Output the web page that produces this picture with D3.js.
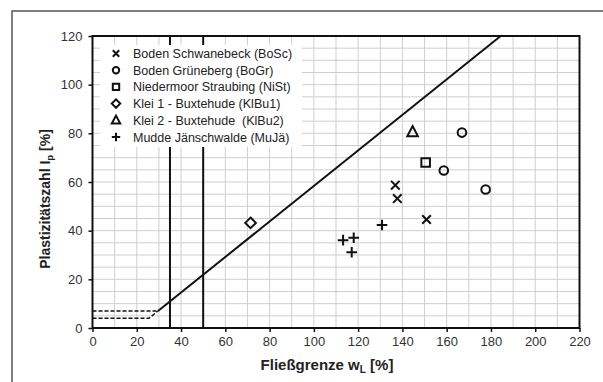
<!DOCTYPE html>
<html>
<head>
<meta charset="utf-8">
<script src="https://cdn.jsdelivr.net/npm/d3@7"></script>
<style>
  html, body { margin: 0; padding: 0; background: #fff; }
  svg { display: block; font-family: "Liberation Sans", Arial, sans-serif; }
</style>
</head>
<body>
<svg id="chart" width="603" height="382"></svg>
<script>
// Soil samples: liquid limit wL [%] and plasticity index Ip [%]
const seriesNames = [
  "Boden Schwanebeck (BoSc)",
  "Boden Grüneberg (BoGr)",
  "Niedermoor Straubing (NiSt)",
  "Klei 1 - Buxtehude (KlBu1)",
  "Klei 2 - Buxtehude  (KlBu2)",
  "Mudde Jänschwalde (MuJä)"
];
const seriesSymbols = ["cross", "circle", "square", "diamond", "triangle", "plus"];

const bosc = [[136.8, 58.7], [137.7, 53.2], [150.9, 44.6]];
const bogr = [[166.9, 80.3], [158.7, 64.7], [177.6, 56.9]];
const nist = [[150.5, 68.0]];
const klbu1 = [[71.4, 43.2]];
const klbu2 = [[144.6, 80.6]];
const muja = [[113.2, 36.1], [118.0, 37.1], [117.1, 31.1], [130.8, 42.3]];
const seriesData = [bosc, bogr, nist, klbu1, klbu2, muja];

// Casagrande plasticity chart reference lines
const aLine = [[29.6, 7], [184.4, 120]];          // Ip = 0.73 (wL - 20)
const dashUpper = [[0, 7], [29.6, 7]];
const dashLower = [[0, 4], [25.5, 4], [29.6, 7]];
const liquidLimitBounds = [35, 50];

const xTicks = d3.range(0, 221, 20);
const yTicks = d3.range(0, 121, 20);
const xGrid = d3.range(0, 221, 10);
const yGrid = d3.range(0, 121, 5);

const svg = d3.select("#chart");
const x = d3.scaleLinear().domain([0, 220]).range([92.5, 579.5]);
const y = d3.scaleLinear().domain([0, 120]).range([328, 36]);

// outer frame (top and left edges)
svg.append("path").attr("d", "M12,382 V11 H603")
  .attr("fill", "none").attr("stroke", "#555").attr("stroke-width", 1.5);

// grid
const grid = svg.append("g").attr("stroke", "#cfcfcf").attr("stroke-width", 1);
grid.selectAll("line.vx").data(xGrid).join("line")
  .attr("x1", d => x(d)).attr("x2", d => x(d)).attr("y1", y(0)).attr("y2", y(120));
grid.selectAll("line.hy").data(yGrid).join("line")
  .attr("y1", d => y(d)).attr("y2", d => y(d)).attr("x1", x(0)).attr("x2", x(220));

// liquid limit boundaries
svg.selectAll("line.wl").data(liquidLimitBounds).join("line")
  .attr("x1", d => x(d)).attr("x2", d => x(d)).attr("y1", y(0)).attr("y2", y(120))
  .attr("stroke", "#111").attr("stroke-width", 2);

const line = d3.line().x(d => x(d[0])).y(d => y(d[1]));
svg.append("path").attr("d", line(aLine)).attr("fill", "none")
  .attr("stroke", "#111").attr("stroke-width", 2);
[dashUpper, dashLower].forEach(p => {
  svg.append("path").attr("d", line(p)).attr("fill", "none")
    .attr("stroke", "#111").attr("stroke-width", 1.5).attr("stroke-dasharray", "4,2");
});

// legend box (white background hides grid beneath)
const legend = svg.append("g");
legend.append("rect").attr("x", 100).attr("y", 45).attr("width", 202).attr("height", 102)
  .attr("fill", "#fff");

function symbolPath(kind, s) {
  switch (kind) {
    case "cross": return `M${-s},${-s}L${s},${s}M${-s},${s}L${s},${-s}`;
    case "plus": return `M${-s - 1},0H${s + 1}M0,${-s - 1}V${s + 1}`;
    case "circle": return d3.symbol(d3.symbolCircle, Math.PI * s * s)();
    case "square": return `M${-s},${-s}H${s}V${s}H${-s}Z`;
    case "diamond": return `M0,${-s - 1}L${s + 1},0L0,${s + 1}L${-s - 1},0Z`;
    case "triangle": return `M0,${-s - 1.5}L${s + 1},${s}H${-s - 1}Z`;
  }
}
function drawSymbol(g, kind, cx, cy, s) {
  g.append("path").attr("d", symbolPath(kind, s))
    .attr("transform", `translate(${cx},${cy})`)
    .attr("fill", "none").attr("stroke", "#111").attr("stroke-width", 2);
}

seriesNames.forEach((name, i) => {
  const cy = 53.5 + i * 16.7;
  drawSymbol(legend, seriesSymbols[i], 116, cy, 3.2);
  legend.append("text").attr("x", 133).attr("y", cy + 4.5)
    .attr("font-size", 12.5).attr("fill", "#222").style("white-space", "pre")
    .text(name);
});

// data points
seriesData.forEach((pts, i) => {
  pts.forEach(p => drawSymbol(svg, seriesSymbols[i], x(p[0]), y(p[1]), 4.3));
});

// axes
const xAxis = svg.append("g").attr("transform", `translate(0,${y(0)})`)
  .call(d3.axisBottom(x).tickValues(xTicks).tickSize(4).tickPadding(5));
const yAxis = svg.append("g").attr("transform", `translate(${x(0)},0)`)
  .call(d3.axisLeft(y).tickValues(yTicks).tickSize(4).tickPadding(6));
[xAxis, yAxis].forEach(a => {
  a.select(".domain").remove();
  a.selectAll("line").attr("stroke", "#111").attr("stroke-width", 1.5);
  a.selectAll("text").attr("font-size", 13).attr("fill", "#333")
    .attr("font-family", "Liberation Sans, Arial, sans-serif");
});

// plot frame
svg.append("rect").attr("x", x(0)).attr("y", y(120))
  .attr("width", x(220) - x(0)).attr("height", y(0) - y(120))
  .attr("fill", "none").attr("stroke", "#111").attr("stroke-width", 2);

// axis titles
const xt = svg.append("text").attr("x", 327).attr("y", 370)
  .attr("text-anchor", "middle").attr("font-size", 15).attr("font-weight", "bold").attr("fill", "#222");
xt.append("tspan").text("Fließgrenze w");
xt.append("tspan").attr("font-size", 10).attr("dy", 3).text("L");
xt.append("tspan").attr("dy", -3).text(" [%]");

const yt = svg.append("text").attr("transform", "translate(50,199) rotate(-90)")
  .attr("text-anchor", "middle").attr("font-size", 14).attr("font-weight", "bold").attr("fill", "#222");
yt.append("tspan").text("Plastizitätszahl I");
yt.append("tspan").attr("font-size", 9.5).attr("dy", 3).text("p");
yt.append("tspan").attr("dy", -3).text(" [%]");
</script>
</body>
</html>
